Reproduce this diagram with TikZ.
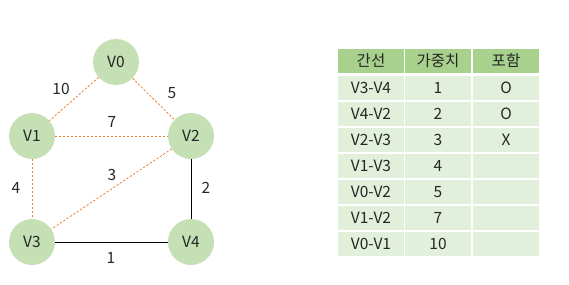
\documentclass[tikz,border=0pt]{standalone}
\usepackage{fontspec}
\setmainfont{Noto Sans CJK KR}
\usepackage{xcolor}
\usetikzlibrary{positioning}
\definecolor{vtxgreen}{HTML}{C5E0B4}
\definecolor{hdrgreen}{HTML}{A9D18E}
\definecolor{rowgreen}{HTML}{E2EFDA}
\definecolor{edgeorange}{HTML}{ED7D31}
\definecolor{txtgray}{HTML}{262626}

\begin{document}
\begin{tikzpicture}[
    x=1pt,y=-1pt,
    every node/.style={text=txtgray,font=\fontsize{15.5}{17}\selectfont},
    vtx/.style={circle,fill=vtxgreen,minimum size=46pt,inner sep=0pt},
    cand/.style={draw=edgeorange,dashed,dash pattern=on 2.2pt off 1.8pt,line width=0.8pt},
    tree/.style={draw=black,line width=0.9pt},
    wlab/.style={inner sep=1pt},
    hcell/.style={rectangle,fill=hdrgreen,draw=white,line width=1.5pt,
                  minimum width=67.5pt,minimum height=26pt,inner sep=0pt},
    bcell/.style={rectangle,fill=rowgreen,draw=white,line width=1.5pt,
                  minimum width=67.5pt,minimum height=26pt,inner sep=0pt}
  ]
    \useasboundingbox (0,0) rectangle (569,284);
    % Vertices
    \node[vtx] (v0) at (116,62)  {V0};
    \node[vtx] (v1) at (32,136)  {V1};
    \node[vtx] (v2) at (191,136) {V2};
    \node[vtx] (v3) at (32,242)  {V3};
    \node[vtx] (v4) at (191,242) {V4};

    % Edges
    \draw[cand] (v0)--(v1);
    \draw[cand] (v0)--(v2);
    \draw[cand] (v1)--(v2);
    \draw[cand] (v1)--(v3);
    \draw[cand] (v2)--(v3);
    \draw[tree] (v2)--(v4);
    \draw[tree] (v3)--(v4);

    % Weights
    \node[wlab] (w01) at (61,89)   {10};
    \node[wlab] (w02) at (172,93)  {5};
    \node[wlab] (w12) at (112,122) {7};
    \node[wlab] (w23) at (112,175) {3};
    \node[wlab] (w13) at (16,188)  {4};
    \node[wlab] (w24) at (206,188) {2};
    \node[wlab] (w34) at (111,258) {1};

    % Table header
    \node[hcell] (h1) at (371,61) {간선};
    \node[hcell] (h2) at (438,61) {가중치};
    \node[hcell] (h3) at (506,61) {포함};

    % Table rows
    \foreach \e/\w/\p [count=\i] in {V3-V4/1/O,V4-V2/2/O,V2-V3/3/X,
        V1-V3/4/{},V0-V2/5/{},V1-V2/7/{},V0-V1/10/{}}{
      \node[bcell] (e\i) at (371,62+26*\i) {\e};
      \node[bcell] (w\i) at (438,62+26*\i) {\w};
      \node[bcell] (p\i) at (506,62+26*\i) {\p};
    }
  \end{tikzpicture}
\end{document}
